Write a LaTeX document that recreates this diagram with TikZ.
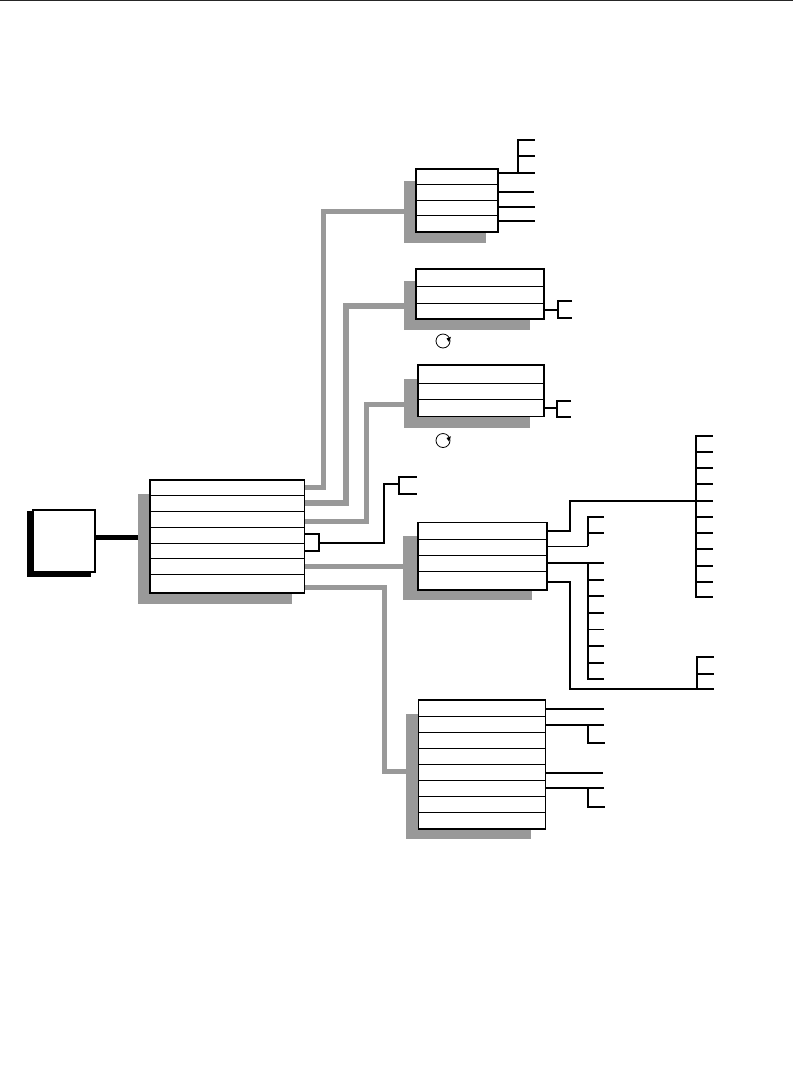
\documentclass[tikz,border=0pt]{standalone}
\usetikzlibrary{calc}
\definecolor{shadecol}{gray}{0.6}
\tikzset{
  x=1pt,y=-1pt,
  shadebox/.style={fill=shadecol,draw=none,rectangle,inner sep=0,outer sep=0},
  blackshadow/.style={fill=black,draw=none,rectangle,inner sep=0,outer sep=0},
  mainbox/.style={fill=white,draw=black,line width=1.8pt,rectangle,inner sep=0,outer sep=0},
  rowline/.style={line width=1pt,black},
  graylink/.style={line width=5pt,color=shadecol,line join=miter},
  wire/.style={line width=2pt,black,line join=miter},
  thinwire/.style={line width=1.1pt,black,line join=miter},
  spin/.style={draw=black,line width=0.8pt,circle,inner sep=0,outer sep=0,minimum size=14pt},
  spintip/.style={fill=black,draw=none},
}
% \rect{style}{name}{x1}{y1}{x2}{y2}
\newcommand{\rect}[6]{%
  \pgfmathsetmacro{\rw}{#5-#3}\pgfmathsetmacro{\rh}{#6-#4}%
  \pgfmathsetmacro{\rx}{(#3+#5)/2}\pgfmathsetmacro{\ry}{(#4+#6)/2}%
  \node[#1,minimum width=\rw pt,minimum height=\rh pt] (#2) at (\rx,\ry) {};}
% \rows{name}{y list}
\newcommand{\rows}[2]{\foreach \yy in {#2} {\draw[rowline] (#1.west |- 0,\yy) -- (#1.east |- 0,\yy);}}
\begin{document}
\begin{tikzpicture}
\useasboundingbox (0,0) rectangle (793,1088);
\draw[line width=1pt,black!85] (0,0.5) -- (793,0.5);

% shadows
\rect{blackshadow}{Ashadow}{27}{511}{91}{576.5}
\rect{shadebox}{Bshadow}{138}{494}{292}{604}
\rect{shadebox}{Cshadow}{404}{181}{486}{242.5}
\rect{shadebox}{Dshadow}{404}{281}{530}{330}
\rect{shadebox}{Gshadow}{404}{379}{530}{427.5}
\rect{shadebox}{Eshadow}{403}{536}{532}{600}
\rect{shadebox}{Fshadow}{406}{714}{531}{838.5}

% thick gray links
\draw[graylink] (304,487) -| (323.5,211) -- (Cshadow.west |- 0,211);
\draw[graylink,line width=5.5pt] (304,503) -| (346,306) -- (Dshadow.west |- 0,306);
\draw[graylink] (304,521) -| (366,404) -- (Gshadow.west |- 0,404);
\draw[graylink] (304,566) -- (Eshadow.west |- 0,566);
\draw[graylink] (304,587) -| (384,771) -- (Fshadow.west |- 0,771);

% boxes
\rect{mainbox}{A}{33}{510}{95}{572}
\rect{mainbox,line width=1.5pt}{B}{150}{480}{304.5}{593}
\rect{mainbox}{C}{416}{169}{498}{232}
\rect{mainbox}{D}{416}{269}{544}{319}
\rect{mainbox}{G}{418}{365}{544}{416.5}
\rect{mainbox,line width=1.5pt}{E}{418}{522.5}{547}{590}
\rect{mainbox,line width=1.5pt}{F}{418.5}{700}{545.5}{829}

\rows{B}{495.7,511.7,527.3,543,558.7,574.3}
\rows{C}{184,200,215}
\rows{D}{286,303}
\rows{G}{383,399}
\rows{E}{539,555,571}
\rows{F}{716.3,732.3,748.3,764.3,780.3,796.3,812.3}

% A to B
\draw[line width=5pt,black] (A.east |- 0,537) -- (Bshadow.west |- 0,537);

% C tree
\draw[wire] (C.east |- 0,172.7) -- (535,172.7);
\draw[wire] (518,172.7) -- (518,140) -- (535,140);
\draw[thinwire] (518,156) -- (535,156);
\draw[wire] (C.east |- 0,191.7) -- (534,191.7);
\draw[thinwire] (C.east |- 0,207) -- (535,207);
\draw[thinwire] (C.east |- 0,221) -- (535,221);

% D and G brackets
\draw[wire] (D.east |- 0,310) -- (557.7,310);
\draw[wire] (572,300.7) -- (557.7,300.7) -- (557.7,318) -- (572,318);
\draw[wire] (G.east |- 0,407.7) -- (556.7,407.7);
\draw[wire] (571,400.7) -- (556.7,400.7) -- (556.7,416.7) -- (571,416.7);

% rotation marks
\node[spin] (R1) at (443,341) {};
\fill[spintip] (446.5,338.5) -- (451,336.8) -- (449,342) -- cycle;
\node[spin] (R2) at (443,440.5) {};
\fill[spintip] (446.5,438) -- (451,436.3) -- (449,441.5) -- cycle;

% B bracket and link
\draw[wire] (B.east |- 0,534) -- (319,534) -- (319,551) -- (B.east |- 0,551);
\draw[wire] (319,542.7) -| (384,484) -- (399,484);
\draw[wire] (416.5,476.7) -- (399,476.7) -- (399,494) -- (416.5,494);

% E trees
\draw[wire] (E.east |- 0,531) -- (570,531) -- (570,500.7) -- (713,500.7);
\draw[wire] (696,435.7) -- (696,596.7);
\foreach \t in {435.7,451.7,468,483.7,516.7,532.7,549,565.7,582,596.7}
  {\draw[wire] (695,\t) -- (713,\t);}
\draw[thinwire,line width=1.4pt] (E.east |- 0,546.3) -- (588,546.3);
\draw[wire] (588,546.3) -- (588,516.7) -- (604,516.7);
\draw[wire] (588,532.7) -- (604,532.7);
\draw[wire] (E.east |- 0,563.3) -- (604,563.3);
\draw[wire] (588,563.3) -- (588,679);
\foreach \t in {579.7,596,613,646,662.7,679}
  {\draw[wire] (587,\t) -- (604,\t);}
\draw[thinwire] (588,629.3) -- (604,629.3);
\draw[wire] (E.east |- 0,582) -- (570,582) -- (570,689.3) -- (714,689.3);
\draw[wire] (696.7,689.3) -- (696.7,657.3) -- (714,657.3);
\draw[wire] (696.7,673.7) -- (714,673.7);

% F trees
\draw[wire] (F.east |- 0,709) -- (604,709);
\draw[wire] (F.east |- 0,724.7) -- (604,724.7);
\draw[wire] (588,724.7) -- (588,743.3) -- (605,743.3);
\draw[wire] (F.east |- 0,772.7) -- (603,772.7);
\draw[wire] (F.east |- 0,788.3) -- (604,788.3);
\draw[wire] (588,788.3) -- (588,806.7) -- (605,806.7);
\end{tikzpicture}
\end{document}
